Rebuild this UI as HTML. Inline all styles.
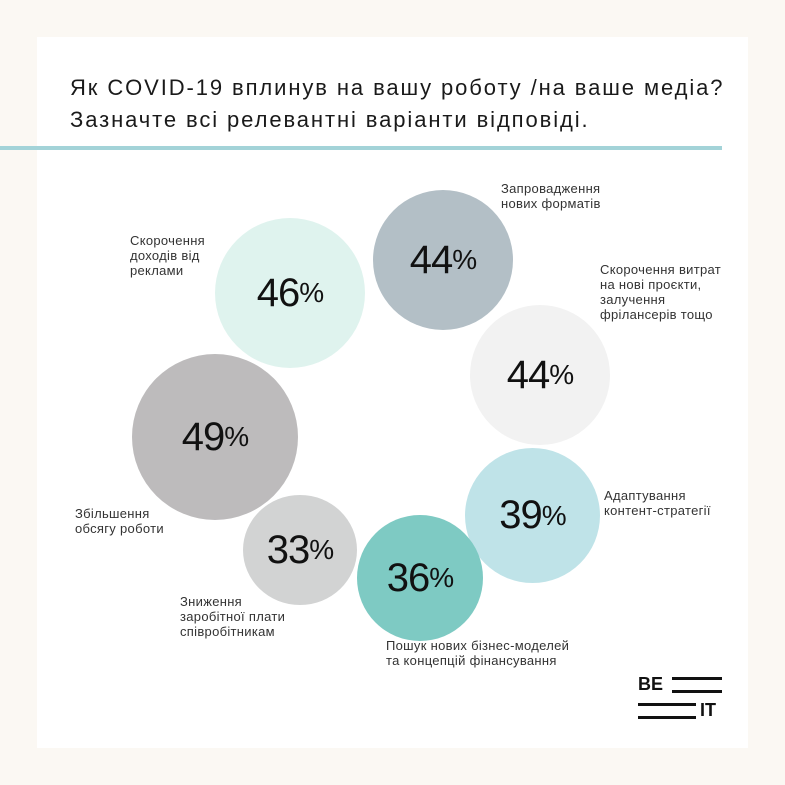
<!DOCTYPE html>
<html><head><meta charset="utf-8"><style>
body{margin:0;width:785px;height:785px;background:#fbf8f3;position:relative;overflow:hidden;font-family:"Liberation Sans","DejaVu Sans",sans-serif;}
.card{position:absolute;left:37px;top:37px;width:711px;height:711px;background:#fff;}
.title{position:absolute;left:70px;top:72px;font-size:22px;line-height:32px;color:#1a1a1a;letter-spacing:1.9px;white-space:nowrap}
.line{position:absolute;left:0;top:146px;width:722px;height:4px;background:#a3d3d8;}
.c{position:absolute;border-radius:50%;display:flex;align-items:center;justify-content:center;font-size:40px;color:#111;letter-spacing:-1px}
.c span{font-size:28px}
.l{position:absolute;font-size:13px;line-height:15px;color:#333;letter-spacing:0.3px}
</style></head><body>
<div class="card"></div>
<div class="title">Як COVID-19 вплинув на вашу роботу /на ваше медіа?<br>Зазначте всі релевантні варіанти відповіді.</div>
<div class="line"></div>
<div class="c" style="left:215px;top:218px;width:150px;height:150px;background:#dff3ee">46<span>%</span></div>
<div class="c" style="left:373px;top:190px;width:140px;height:140px;background:#b3bfc6">44<span>%</span></div>
<div class="c" style="left:470px;top:305px;width:140px;height:140px;background:#f2f2f2">44<span>%</span></div>
<div class="c" style="left:132px;top:354px;width:166px;height:166px;background:#bdbbbc">49<span>%</span></div>
<div class="c" style="left:465px;top:448px;width:135px;height:135px;background:#bfe3e8">39<span>%</span></div>
<div class="c" style="left:243px;top:495px;width:114px;height:110px;background:#d2d3d3">33<span>%</span></div>
<div class="c" style="left:357px;top:515px;width:126px;height:126px;background:#7ecac3">36<span>%</span></div>
<div class="l" style="left:130px;top:233px">Скорочення<br>доходів від<br>реклами</div>
<div class="l" style="left:501px;top:181px">Запровадження<br>нових форматів</div>
<div class="l" style="left:600px;top:262px">Скорочення витрат<br>на нові проєкти,<br>залучення<br>фрілансерів тощо</div>
<div class="l" style="left:604px;top:488px">Адаптування<br>контент-стратегії</div>
<div class="l" style="left:75px;top:506px">Збільшення<br>обсягу роботи</div>
<div class="l" style="left:180px;top:594px">Зниження<br>заробітної плати<br>співробітникам</div>
<div class="l" style="left:386px;top:638px">Пошук нових бізнес-моделей<br>та концепцій фінансування</div>
<div style="position:absolute;left:638px;top:675px;font-weight:bold;font-size:18px;line-height:18px;color:#111">BE</div>
<div style="position:absolute;left:672px;top:677px;width:50px;height:3px;background:#111"></div>
<div style="position:absolute;left:672px;top:690px;width:50px;height:3px;background:#111"></div>
<div style="position:absolute;left:638px;top:703px;width:58px;height:3px;background:#111"></div>
<div style="position:absolute;left:638px;top:716px;width:58px;height:3px;background:#111"></div>
<div style="position:absolute;left:700px;top:701px;font-weight:bold;font-size:18px;line-height:18px;color:#111">IT</div>
</body></html>
